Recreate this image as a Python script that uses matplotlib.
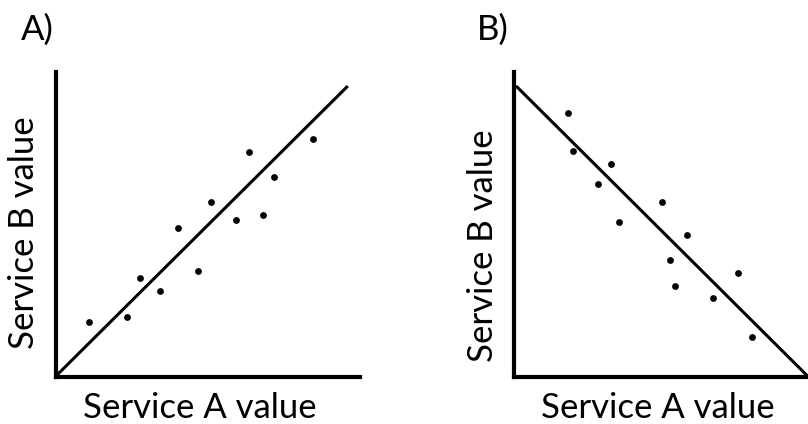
import matplotlib
matplotlib.use("Agg")
import matplotlib.pyplot as plt
import numpy as np

# Panel A: positive relationship (arbitrary units 0-100)
a_x = [10.9, 23.4, 27.7, 34.3, 40.3, 46.9, 51.2, 59.4, 63.7, 68.0, 71.9, 84.5]
a_y = [18.0, 19.7, 32.5, 28.2, 48.9, 34.8, 57.4, 51.5, 73.8, 53.1, 65.6, 78.0]
a_line_x = [0, 96.0]
a_line_y = [0, 95.4]

# Panel B: negative relationship
b_x = [18.2, 20.0, 33.0, 28.7, 35.6, 50.3, 58.9, 53.0, 54.7, 76.3, 67.7, 80.8]
b_y = [86.5, 74.0, 69.7, 63.2, 50.7, 57.3, 46.6, 38.3, 29.8, 34.0, 25.7, 12.9]
b_line_x = [0.7, 99.7]
b_line_y = [95.4, 0.3]

panel_labels = ["A)", "B)"]
xlabel = "Service A value"
ylabel = "Service B value"

W, H = 808, 424
fig = plt.figure(figsize=(W / 100, H / 100), dpi=100)
plt.rcParams['font.family'] = ['Lato', 'DejaVu Sans']

def add_axes(left, right, top, bottom):
    return fig.add_axes([left / W, 1 - bottom / H, (right - left) / W, (bottom - top) / H])

axA = add_axes(55.5, 360, 72, 376.5)
axB = add_axes(514, 808, 72, 376.5)

for ax, xs, ys, lx, ly in [(axA, a_x, a_y, a_line_x, a_line_y),
                           (axB, b_x, b_y, b_line_x, b_line_y)]:
    ax.set_xlim(0, 100)
    ax.set_ylim(0, 100)
    ax.scatter(xs, ys, s=24, color='black', zorder=3, linewidths=0)
    ax.plot(lx, ly, color='black', lw=2.2, solid_capstyle='butt', clip_on=False)
    for s in ['top', 'right']:
        ax.spines[s].set_visible(False)
    for s in ['left', 'bottom']:
        ax.spines[s].set_linewidth(3)
        ax.spines[s].set_color('black')
        ax.spines[s].set_capstyle('projecting')
    ax.set_xticks([])
    ax.set_yticks([])
    ax.patch.set_alpha(0)

fs = 25
def ptext(x, y, s, **kw):
    fig.text(x / W, 1 - y / H, s, fontsize=fs, ha='center', va='center', **kw)

ptext(37, 30, panel_labels[0])
ptext(493, 30, panel_labels[1])
ptext(200, 408, xlabel)
ptext(658, 408, xlabel)
ptext(24, 233, ylabel, rotation=90)
ptext(483, 246, ylabel, rotation=90)

fig.savefig("out.png", dpi=100)
